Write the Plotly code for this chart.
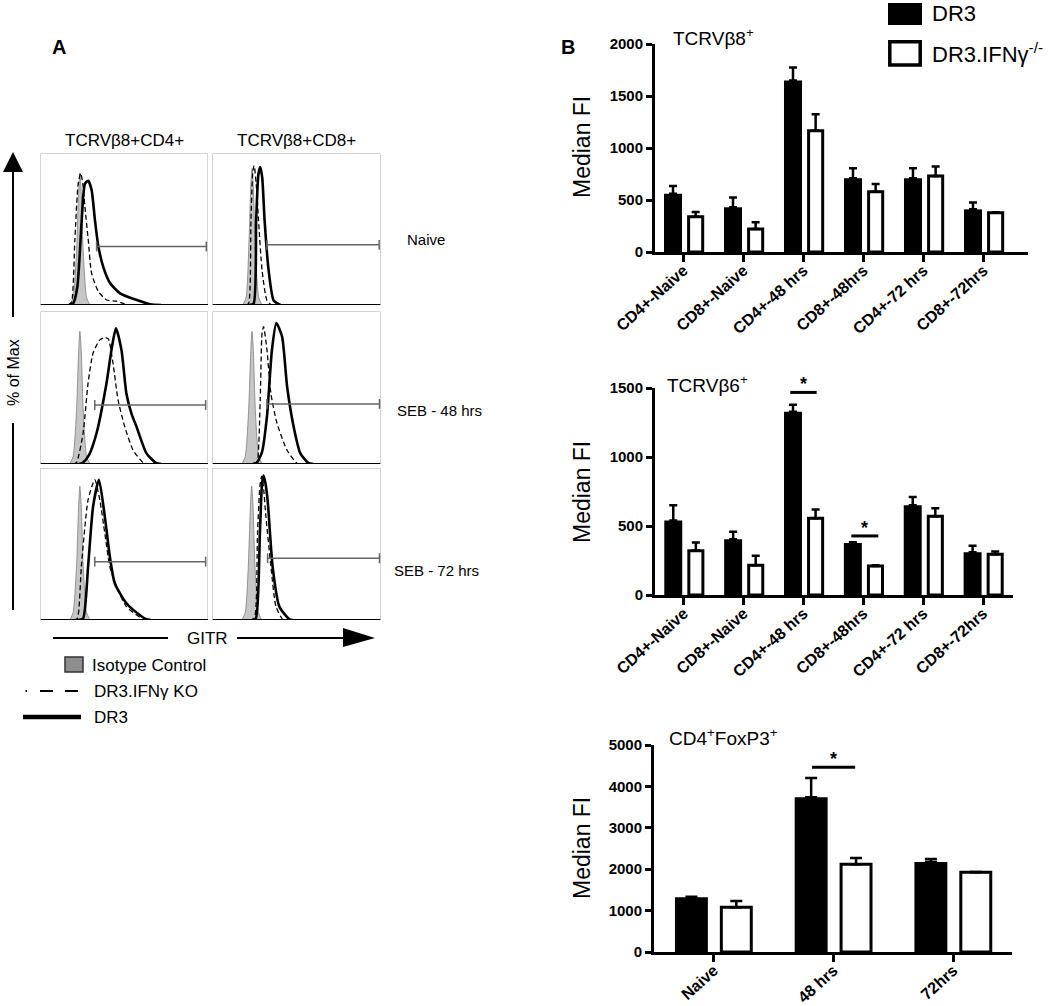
import plotly.graph_objects as go

W, H = 1050, 1006
FONT = "Arial, Liberation Sans, sans-serif"


def fx(p):
    return p / W


def fy(p):
    return 1 - p / H


# ---------------- Panel A data (GITR histograms, % of max) ----------------
col_titles = ["TCRVβ8+CD4+", "TCRVβ8+CD8+"]
row_labels = ["Naive", "SEB - 48 hrs", "SEB - 72 hrs"]

iso_x = [
    [17.5, 19.5, 21.5, 22.8, 23.5, 24.3, 25.5, 27.5, 29.5],
    [18.0, 20.0, 21.5, 22.8, 23.5, 24.3, 25.5, 27.5, 29.5],
    [17.5, 19.5, 21.5, 22.8, 23.5, 24.3, 25.5, 27.5, 29.5],
    [17.5, 19.5, 21.5, 22.8, 23.5, 24.3, 25.5, 27.5, 29.5],
    [17.5, 19.5, 21.5, 22.8, 23.5, 24.3, 25.5, 27.5, 29.5],
    [17.5, 19.5, 21.3, 22.6, 23.3, 24.1, 25.3, 27.3, 29.3],
]
iso_y = [
    [0, 5, 35, 75, 87, 75, 35, 5, 0],
    [0, 5, 35, 78, 90, 78, 35, 5, 0],
    [0, 5, 35, 75, 87, 75, 35, 5, 0],
    [0, 5, 35, 75, 87, 75, 35, 5, 0],
    [0, 5, 35, 76, 88, 76, 35, 5, 0],
    [0, 5, 35, 76, 88, 76, 35, 5, 0],
]
ko_x = [
    [16.5, 18.5, 20.5, 22.5, 24.0, 25.5, 26.5, 28.5, 30.5, 34.5, 39.5, 45.5, 52.0],
    [20.0, 21.5, 22.9, 24.0, 24.8, 26.0, 27.4, 29.5, 32.4, 35.0],
    [19.5, 21.5, 25.4, 28.4, 31.4, 35.4, 38.5, 40.5, 43.3, 46.3, 50.3, 55.3, 61.2, 64.0],
    [25.0, 26.5, 28.4, 29.5, 30.4, 32.4, 34.8, 38.4, 44.4, 50.3, 53.0],
    [20.0, 22.0, 24.4, 28.4, 32.4, 35.4, 38.4, 41.4, 45.4, 51.3, 61.2, 64.0],
    [22.5, 24.9, 26.8, 28.2, 29.2, 30.3, 31.8, 34.8, 37.8, 41.7, 44.0],
]
ko_y = [
    [0, 2, 43, 80, 87, 78, 65, 43, 21, 9, 3.3, 2.5, 0],
    [0, 1, 56, 88, 92, 80, 56, 23, 3, 0],
    [0, 1, 20, 53, 72.7, 81.4, 83, 82, 66, 42, 24.5, 9, 1, 0],
    [0, 1, 42, 85.8, 90, 75, 46, 26.7, 9, 0.5, 0],
    [0, 1, 35, 79, 92.3, 79, 57, 35, 22, 8.8, 0.5, 0],
    [0, 1, 57, 88, 94.5, 88, 68, 35, 8.8, 0.5, 0],
]
dr3_x = [
    [17.0, 19.5, 22.0, 24.5, 26.5, 28.5, 30.5, 32.5, 34.5, 37.5, 41.5, 47.5, 57.5, 65.5, 72.0],
    [22.0, 24.5, 26.0, 27.3, 28.4, 29.6, 31.0, 33.4, 36.4, 40.4],
    [23.0, 25.4, 29.0, 33.4, 39.4, 42.4, 45.0, 48.3, 51.3, 54.3, 57.3, 63.3, 69.2, 72.0],
    [24.0, 26.5, 29.5, 32.4, 35.4, 38.0, 41.4, 44.4, 48.3, 52.3, 57.2, 60.0],
    [22.5, 25.4, 28.4, 31.4, 34.9, 38.4, 41.4, 44.4, 51.3, 59.2, 63.2, 66.0],
    [23.5, 25.8, 28.2, 29.5, 30.4, 31.5, 32.8, 35.8, 39.8, 45.8, 48.0],
]
dr3_y = [
    [0, 1, 12, 54, 80, 82, 76, 56, 39, 25, 14.5, 7.7, 3.3, 0.5, 0],
    [0, 1, 56, 86, 91, 84, 56, 23, 3, 0],
    [0, 1, 6, 20, 53, 75, 89, 75, 46, 33, 24.5, 7, 0.5, 0],
    [0, 1, 8, 31, 75, 92.4, 83.6, 50.8, 24.5, 7, 0.5, 0],
    [0, 1, 35, 74.7, 92.3, 68, 41.7, 24, 11, 3.3, 0.5, 0],
    [0, 1, 57, 90, 95, 90, 79, 35, 8.8, 0.5, 0],
]
gate_x0 = [33.5, 32.4, 32.4, 32.4, 32.4, 32.8]
gate_x1 = [99.0, 99.2, 98.6, 99.4, 98.6, 99.4]
gate_y = [38.6, 39.7, 38.7, 39.4, 38.4, 40.6]

# ---------------- Panel B data (Median FI) ----------------
cats_vb = ["CD4+-Naive", "CD8+-Naive", "CD4+-48 hrs", "CD8+-48hrs", "CD4+-72 hrs", "CD8+-72hrs"]
cats_fox = ["Naive", "48 hrs", "72hrs"]

vb8_dr3 = [560, 430, 1650, 710, 710, 410]
vb8_dr3_err = [75, 95, 125, 95, 95, 65]
vb8_ko = [340, 220, 1165, 580, 730, 377]
vb8_ko_err = [45, 65, 160, 75, 92, 5]

vb6_dr3 = [540, 404, 1328, 377, 651, 310]
vb6_dr3_err = [110, 55, 50, 5, 60, 46]
vb6_ko = [321, 215, 557, 210, 571, 295]
vb6_ko_err = [60, 70, 62, 5, 58, 20]

fox_dr3 = [1320, 3740, 2175]
fox_dr3_err = [15, 460, 70]
fox_ko = [1080, 2120, 1925]
fox_ko_err = [150, 150, 10]

vb6_sig_x0 = [1.78, 2.80]
vb6_sig_x1 = [2.22, 3.25]
vb6_sig_y = [1468, 428]
fox_sig_x0 = [0.82]
fox_sig_x1 = [1.18]
fox_sig_y = [4461]

# ---------------- Figure ----------------
fig = go.Figure()
layout = dict(
    width=W, height=H, margin=dict(l=0, r=0, t=0, b=0, pad=0), autosize=False,
    paper_bgcolor="white", plot_bgcolor="white", showlegend=False,
    barmode="overlay", font=dict(family=FONT, color="black"),
)
shapes = []
annotations = []


def ann(text, x, y, size, xanchor="center", yanchor="middle", bold=False, angle=0):
    annotations.append(dict(
        text=text, x=fx(x), y=fy(y), xref="paper", yref="paper", showarrow=False,
        xanchor=xanchor, yanchor=yanchor, textangle=angle,
        font=dict(family=FONT, size=size, color="black", weight="bold" if bold else "normal"),
    ))


def pline(x0, y0, x1, y1, width, color="black"):
    shapes.append(dict(type="line", xref="paper", yref="paper",
                       x0=fx(x0), y0=fy(y0), x1=fx(x1), y1=fy(y1), line=dict(color=color, width=width)))


def ppath(pts, fill="black"):
    d = "M " + " L ".join(f"{fx(a):.5f},{fy(b):.5f}" for a, b in pts) + " Z"
    shapes.append(dict(type="path", xref="paper", yref="paper", path=d,
                       fillcolor=fill, line=dict(color=fill, width=0)))


hist_cols = [(40.5, 208.0), (212.5, 380.5)]
hist_rows = [(153.5, 305.0), (311.5, 464.0), (468.0, 620.0)]

for i in range(6):
    r, c = divmod(i, 2)
    n = i + 1
    xa, ya = (f"x{n}", f"y{n}") if n > 1 else ("x", "y")
    xk, yk = (f"xaxis{n}", f"yaxis{n}") if n > 1 else ("xaxis", "yaxis")
    x0p, x1p = hist_cols[c]
    y0p, y1p = hist_rows[r]
    layout[xk] = dict(domain=[fx(x0p), fx(x1p)], range=[0, 100], visible=False, anchor=ya,
                      fixedrange=True, automargin=False)
    layout[yk] = dict(domain=[fy(y1p), fy(y0p)], range=[0, 100], visible=False, anchor=xa,
                      fixedrange=True, automargin=False)
    fig.add_trace(go.Scatter(x=iso_x[i], y=iso_y[i], mode="lines", fill="tozeroy", fillcolor="#c6c6c6",
                             line=dict(color="#7d7d7d", width=0.8, shape="spline", smoothing=0.6),
                             xaxis=xa, yaxis=ya, hoverinfo="skip"))
    fig.add_trace(go.Scatter(x=ko_x[i], y=ko_y[i], mode="lines",
                             line=dict(color="black", width=1.3, dash="5px,3px", shape="spline", smoothing=0.6),
                             xaxis=xa, yaxis=ya, hoverinfo="skip"))
    fig.add_trace(go.Scatter(x=dr3_x[i], y=dr3_y[i], mode="lines",
                             line=dict(color="black", width=2.6, shape="spline", smoothing=0.6),
                             xaxis=xa, yaxis=ya, hoverinfo="skip"))
    fig.add_trace(go.Scatter(x=[gate_x0[i], gate_x1[i]], y=[gate_y[i], gate_y[i]], mode="lines+markers",
                             line=dict(color="#666666", width=1.5),
                             marker=dict(symbol="line-ns", size=7, line=dict(color="#666666", width=1.5)),
                             xaxis=xa, yaxis=ya, hoverinfo="skip", cliponaxis=False))
    shapes.append(dict(type="rect", xref=xa, yref=ya, x0=0, x1=100, y0=0, y1=100,
                       line=dict(color="#a8a8a8", width=1), layer="below"))
    shapes.append(dict(type="line", xref=xa, yref=ya, x0=0, x1=100, y0=0, y1=0,
                       line=dict(color="black", width=2.2)))

# Panel A labels
ann("A", 59, 47, 20, bold=True)
ann(col_titles[0], 124, 140, 17)
ann(col_titles[1], 296, 140, 17)
ann(row_labels[0], 405, 240, 15, xanchor="left")
ann(row_labels[1], 395, 410, 15, xanchor="left")
ann(row_labels[2], 392, 570, 15, xanchor="left")
ann("% of Max", 13, 373, 16, angle=-90)
# y arrow
pline(13, 610, 13, 423, 2)
pline(13, 317, 13, 171, 2)
ppath([(3, 172), (23, 172), (13, 152)])
# GITR arrow
pline(53, 638, 168, 638, 2)
ann("GITR", 207, 638, 17)
pline(237, 638, 344, 638, 2)
ppath([(343, 628), (375, 638), (343, 647)])
# legend A
shapes.append(dict(type="rect", xref="paper", yref="paper", x0=fx(65), x1=fx(83), y0=fy(672), y1=fy(657),
                   fillcolor="#8e8e8e", line=dict(color="#333333", width=1.5)))
ann("Isotype Control", 90, 665, 17, xanchor="left")
pline(25.5, 691, 27, 691, 2)
pline(40, 691, 53, 691, 2)
pline(65, 691, 78, 691, 2)
ann("DR3.IFNγ KO", 92, 691, 17, xanchor="left")
pline(23, 717, 81, 717, 4.5)
ann("DR3", 92, 717, 17, xanchor="left")

# ---------------- Panel B bar charts ----------------
bar_specs = [
    dict(n=7, cats=cats_vb, dr3=vb8_dr3, dr3e=vb8_dr3_err, ko=vb8_ko, koe=vb8_ko_err,
         xd=(655, 1028), yd=(44, 252), xr=[-0.475, 5.742], yr=[0, 2000], yt=[0, 500, 1000, 1500, 2000],
         bw=(0.30, -0.325, 0.235, 0.085), cap=4),
    dict(n=8, cats=cats_vb, dr3=vb6_dr3, dr3e=vb6_dr3_err, ko=vb6_ko, koe=vb6_ko_err,
         xd=(655, 1013), yd=(388, 595), xr=[-0.48, 5.5], yr=[0, 1500], yt=[0, 500, 1000, 1500],
         bw=(0.30, -0.325, 0.235, 0.085), cap=4),
    dict(n=9, cats=cats_fox, dr3=fox_dr3, dr3e=fox_dr3_err, ko=fox_ko, koe=fox_ko_err,
         xd=(654, 1012), yd=(745, 952), xr=[-0.5, 2.49], yr=[0, 5000], yt=[0, 1000, 2000, 3000, 4000, 5000],
         bw=(0.275, -0.325, 0.25, 0.0625), cap=6),
]

for s in bar_specs:
    n = s["n"]
    xa, ya = f"x{n}", f"y{n}"
    k = len(s["cats"])
    pos = list(range(k))
    layout[f"xaxis{n}"] = dict(
        domain=[fx(s["xd"][0]), fx(s["xd"][1])], range=s["xr"], anchor=ya, fixedrange=True, automargin=False,
        tickmode="array", tickvals=pos, ticktext=s["cats"], tickangle=-42, ticklabelstandoff=-7,
        ticks="outside", ticklen=7, tickwidth=3, tickcolor="black",
        showline=True, linewidth=3, linecolor="black", showgrid=False, zeroline=False,
        tickfont=dict(family=FONT, size=16, color="black", weight="bold"),
    )
    layout[f"yaxis{n}"] = dict(
        domain=[fy(s["yd"][1]), fy(s["yd"][0])], range=s["yr"], anchor=xa, fixedrange=True, automargin=False,
        tickmode="array", tickvals=s["yt"],
        ticks="outside", ticklen=6, tickwidth=3, tickcolor="black",
        showline=True, linewidth=3, linecolor="black", showgrid=False, zeroline=False,
        tickfont=dict(family=FONT, size=15, color="black", weight="bold"),
    )
    wb, ob, ww, ow = s["bw"]
    fig.add_trace(go.Bar(
        x=pos, y=s["dr3"], width=wb, offset=ob, xaxis=xa, yaxis=ya,
        marker=dict(color="black", line=dict(width=0)),
        error_y=dict(type="data", array=s["dr3e"], arrayminus=[0] * k, symmetric=False,
                     color="black", thickness=2.5, width=s["cap"]),
        hoverinfo="skip", cliponaxis=False,
    ))
    fig.add_trace(go.Bar(
        x=pos, y=s["ko"], width=ww, offset=ow, xaxis=xa, yaxis=ya,
        marker=dict(color="white", line=dict(color="black", width=3)),
        error_y=dict(type="data", array=s["koe"], arrayminus=[0] * k, symmetric=False,
                     color="black", thickness=2.5, width=s["cap"]),
        hoverinfo="skip", cliponaxis=False,
    ))

# significance markers
for xr_, yr_, x0s, x1s, ys in (("x8", "y8", vb6_sig_x0, vb6_sig_x1, vb6_sig_y),
                               ("x9", "y9", fox_sig_x0, fox_sig_x1, fox_sig_y)):
    for x0, x1, y in zip(x0s, x1s, ys):
        shapes.append(dict(type="line", xref=xr_, yref=yr_, x0=x0, x1=x1, y0=y, y1=y,
                           line=dict(color="black", width=3)))
        annotations.append(dict(text="*", x=(x0 + x1) / 2, y=y, xref=xr_, yref=yr_, showarrow=False,
                                yanchor="bottom", yshift=-4,
                                font=dict(family=FONT, size=18, color="black", weight="bold")))

# Panel B labels
ann("B", 568, 47, 20, bold=True)
ann("TCRVβ8<sup>+</sup>", 671, 37, 19, xanchor="left")
ann("TCRVβ6<sup>+</sup>", 665, 384, 19, xanchor="left")
ann("CD4<sup>+</sup>FoxP3<sup>+</sup>", 667, 737, 19, xanchor="left")
ann("Median FI", 582, 147, 23, angle=-90)
ann("Median FI", 582, 492, 23, angle=-90)
ann("Median FI", 582, 848, 23, angle=-90)
# legend B
shapes.append(dict(type="rect", xref="paper", yref="paper", x0=fx(888), x1=fx(922), y0=fy(25), y1=fy(3),
                   fillcolor="black", line=dict(color="black", width=0)))
shapes.append(dict(type="rect", xref="paper", yref="paper", x0=fx(889.8), x1=fx(920.2), y0=fy(65), y1=fy(41.8),
                   fillcolor="white", line=dict(color="black", width=3.5)))
ann("DR3", 930, 14, 22, xanchor="left")
ann("DR3.IFNγ<sup>-/-</sup>", 930, 53, 22, xanchor="left")

layout["shapes"] = shapes
layout["annotations"] = annotations
fig.update_layout(**layout)

fig.write_html("out.html", config={"displayModeBar": False},
               post_script="document.body.style.margin='0px';")
